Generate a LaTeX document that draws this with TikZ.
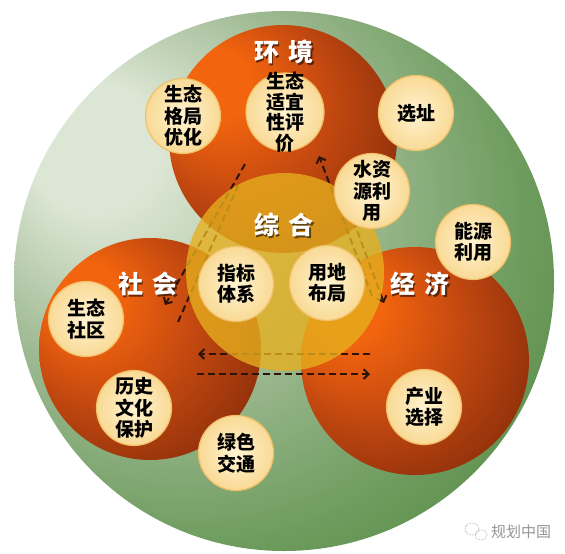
\documentclass[tikz,border=0pt]{standalone}
\usepackage{fontspec}
\setmainfont{Noto Sans CJK SC}
\usetikzlibrary{arrows.meta}
\definecolor{grnlight}{RGB}{220,230,212}
\definecolor{grnmid}{RGB}{162,188,150}
\definecolor{grnmid2}{RGB}{110,156,94}
\definecolor{grndark}{RGB}{74,128,58}
\definecolor{redhi}{RGB}{242,100,14}
\definecolor{redmid}{RGB}{198,74,16}
\definecolor{reddark}{RGB}{152,52,12}
\definecolor{reddeep}{RGB}{112,36,8}
\definecolor{zhyellow}{RGB}{230,176,30}
\definecolor{bubin}{RGB}{255,243,208}
\definecolor{bubout}{RGB}{249,218,150}
\definecolor{bubedge}{RGB}{241,192,104}
\definecolor{dashbrown}{RGB}{44,20,10}
\definecolor{wmgray}{RGB}{150,150,150}
\pgfdeclareradialshading{greenbg}{\pgfpoint{-20bp}{14bp}}{color(0bp)=(grnlight); color(6bp)=(grnlight); color(18bp)=(grnmid); color(30bp)=(grnmid2); color(42bp)=(grndark); color(50bp)=(grndark)}
\pgfdeclareradialshading{redball}{\pgfpoint{-18bp}{14bp}}{color(0bp)=(redhi); color(8bp)=(redhi); color(20bp)=(redmid); color(32bp)=(reddark); color(44bp)=(reddeep); color(50bp)=(reddeep)}

\begin{document}
\begin{tikzpicture}[x=1pt,y=-1pt,
  sphere/.style={circle,shade,shading=redball,inner sep=0pt,minimum size=228pt},
  bubble/.style={circle,draw=bubedge,line width=1.2pt,shading=radial,inner color=bubin,
    outer color=bubout,minimum size=75pt,inner sep=0pt},
  bubtext/.style={font=\fontsize{19}{21.5}\selectfont\bfseries,align=center,text=black},
  dlabel/.style={font=\fontsize{25}{28}\selectfont\bfseries,text=white},
  dshadow/.style={font=\fontsize{25}{28}\selectfont\bfseries,text=black,opacity=0.55},
  flow/.style={dash pattern=on 7pt off 4pt,line width=2pt,draw=dashbrown},
  flowtip/.style={flow,-{Straight Barb[length=5pt,width=10pt]}}]
  \useasboundingbox (0,0) rectangle (565,554);
  \fill[white] (0,0) rectangle (565,554);
  % outer ring
  \node[circle,shade,shading=greenbg,inner sep=0pt,minimum size=540pt] (outer) at (284,281) {};
  % three domains
  \node[sphere] (env) at (283,139) {};
  \node[sphere,minimum size=222pt] (soc) at (150,349) {};
  \node[sphere] (eco) at (415,361) {};
  % flow ends
  \coordinate (lt) at (245,164);
  \coordinate (lb) at (165,305);
  \coordinate (lt2) at (238,186);
  \coordinate (lb2) at (178,322);
  \coordinate (rt) at (319,156);
  \coordinate (rb) at (372,296);
  \coordinate (rt2) at (342,190);
  \coordinate (rb2) at (384,303);
  \coordinate (bl) at (198,354);
  \coordinate (br) at (370,354);
  \coordinate (bl2) at (197,374);
  \coordinate (br2) at (370,374);
  % flows
  \draw[flowtip] (lt) -- (lb);
  \draw[flow] (lb2) -- (lt2);
  \draw[flowtip] (rb) -- (rt);
  \draw[flowtip] (rt2) -- (rb2);
  \draw[flowtip] (br) -- (bl);
  \draw[flowtip] (bl2) -- (br2);
  % synthesis
  \node[circle,fill=zhyellow,fill opacity=0.78,inner sep=0pt,minimum size=198pt] (syn) at (285,272) {};
  % bubbles
  \node[bubble] (gjyh) at (183,116) {};
  \node[bubtext] at (gjyh) {生态\\格局\\优化};
  \node[bubble,minimum size=78pt] (syxpj) at (285,112) {};
  \node[bubtext,font=\fontsize{19}{20.5}\selectfont\bfseries] at (syxpj) {生态\\适宜\\性评\\价};
  \node[bubble] (xz) at (416,113) {};
  \node[bubtext] at (xz) {选址};
  \node[bubble] (szyly) at (372,191) {};
  \node[bubtext] at (szyly) {水资\\源利\\用};
  \node[bubble] (nyly) at (473,242) {};
  \node[bubtext] at (nyly) {能源\\利用};
  \node[bubble] (zbtx) at (236,284) {};
  \node[bubtext] at (zbtx) {指标\\体系};
  \node[bubble] (ydbj) at (327,283) {};
  \node[bubtext] at (ydbj) {用地\\布局};
  \node[bubble] (stsq) at (86,319) {};
  \node[bubtext] at (stsq) {生态\\社区};
  \node[bubble] (lswh) at (134,408) {};
  \node[bubtext] at (lswh) {历史\\文化\\保护};
  \node[bubble] (lsjt) at (236,453) {};
  \node[bubtext] at (lsjt) {绿色\\交通};
  \node[bubble] (cyxz) at (424,407) {};
  \node[bubtext] at (cyxz) {产业\\选择};
  % domain labels
  \node[dshadow] at (285.5,53.5) {环\hspace{0.4em}境};
  \node[dlabel] (envlbl) at (284,52) {环\hspace{0.4em}境};
  \node[dshadow] at (285.5,226.5) {综\hspace{0.4em}合};
  \node[dlabel] (synlbl) at (284,225) {综\hspace{0.4em}合};
  \node[dshadow] at (149.5,285.5) {社\hspace{0.4em}会};
  \node[dlabel] (soclbl) at (148,284) {社\hspace{0.4em}会};
  \node[dshadow] at (421.5,285.5) {经\hspace{0.4em}济};
  \node[dlabel] (ecolbl) at (420,284) {经\hspace{0.4em}济};
  % mark
  \draw[wmgray,densely dotted,line width=0.6pt] (472,529) ellipse (7 and 6);
  \draw[wmgray,densely dotted,line width=0.6pt] (481,535) ellipse (6 and 5);
  \node[font=\fontsize{15}{17}\selectfont,text=wmgray,anchor=west,inner sep=0pt] (wm) at (491,532) {规划中国};
\end{tikzpicture}
\end{document}
